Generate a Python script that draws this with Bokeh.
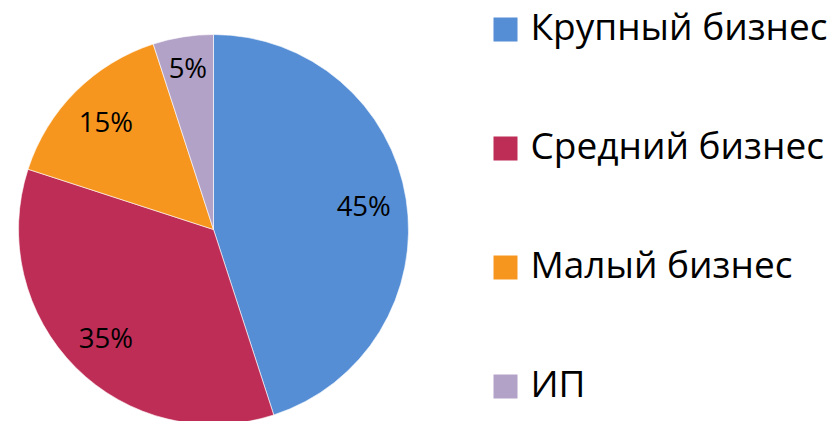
import math
from bokeh.plotting import figure
from bokeh.models import Range1d, ColumnDataSource
from bokeh.core.properties import value
from bokeh.embed import file_html
from bokeh.resources import INLINE

categories = ["Крупный бизнес", "Средний бизнес", "Малый бизнес", "ИП"]
shares = [45, 35, 15, 5]
labels = ["45%", "35%", "15%", "5%"]
colors = ["#558ED5", "#BE2D55", "#F7961E", "#B3A2C7"]

W, H = 831, 421
p = figure(width=W, height=H, output_backend="svg", toolbar_location=None,
           x_range=Range1d(0, W), y_range=Range1d(0, H), min_border=0)
p.axis.visible = False
p.grid.visible = False
p.outline_line_color = None
p.background_fill_color = "white"

def py(page_y):
    return H - page_y

cx, cy, R = 213, py(229), 195
total = sum(shares)
starts, ends, lx, ly = [], [], [], []
a = math.pi / 2
for s in shares:
    sweep = 2 * math.pi * s / total
    starts.append(a)
    ends.append(a - sweep)
    mid = a - sweep / 2
    rr = R * (0.84 if s < 10 else 0.78)
    lx.append(cx + rr * math.cos(mid))
    ly.append(cy + rr * math.sin(mid))
    a -= sweep

src = ColumnDataSource(dict(start=starts, end=ends, color=colors, lx=lx, ly=ly, lab=labels))
p.wedge(x=cx, y=cy, radius=R, start_angle="start", end_angle="end", direction="clock",
        fill_color="color", line_color="white", line_width=0.6, source=src)
p.text(x="lx", y="ly", text="lab", source=src, text_font=value("Open Sans"),
       text_font_size="27.5px", text_align="center", text_baseline="middle", text_color="black")

row_page_y = [29, 148, 267, 386]
leg = ColumnDataSource(dict(x=[505] * 4, y=[py(v) for v in row_page_y], color=colors,
                            name=categories, tx=[530] * 4,
                            ty=[py(v) + 4.5 for v in row_page_y]))
p.rect(x="x", y="y", width=24, height=24, fill_color="color", line_color=None, source=leg)
p.text(x="tx", y="ty", text="name", source=leg, text_font=value("Open Sans"),
       text_font_size="37px", text_align="left", text_baseline="middle", text_color="black")

open("out.html", "w").write(file_html(p, INLINE))
